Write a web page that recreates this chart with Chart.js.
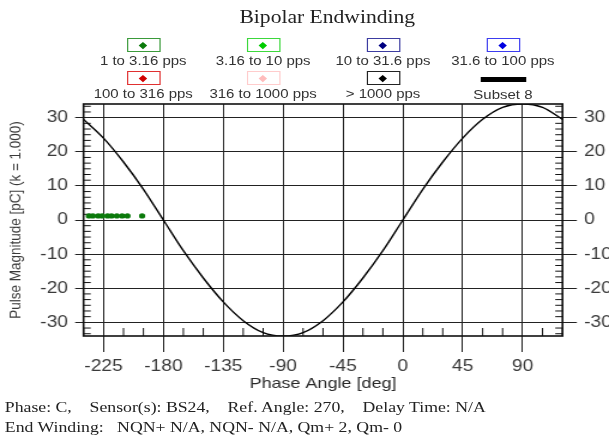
<!DOCTYPE html>
<html>
<head>
<meta charset="utf-8">
<script src="https://cdn.jsdelivr.net/npm/chart.js@4.4.1/dist/chart.umd.min.js"></script>
<style>
  html, body { margin: 0; padding: 0; background: #fff; }
  body { width: 609px; height: 437px; overflow: hidden; position: relative; }
  /* the original picture is stretched sideways, so everything is drawn narrow and widened */
  #wrap { position: absolute; left: 0; top: 0; width: 508px; height: 437px; transform: scaleX(1.1988); transform-origin: 0 0; }
  #c { position: absolute; left: 0; top: 0; }
  #title { position: absolute; left: 0; width: 546px; top: 7px; text-align: center; font: 18px "Liberation Serif", serif; color: #222; }
  .item { position: absolute; width: 100px; text-align: center; }
  .box { position: relative; margin: 0 auto; width: 26px; height: 12px; border: 1.5px solid #000; }
  .dia { position: absolute; left: 50%; top: 50%; width: 4.5px; height: 4.5px; margin: -2.25px 0 0 -2.25px; transform: rotate(45deg); }
  .bar { margin: 6px auto 0; width: 38px; height: 5px; background: #000; }
  .lab { font: 12.5px "Liberation Sans", Arial, sans-serif; color: #333; line-height: 14px; margin-top: 2px; white-space: nowrap; }
  #foot { position: absolute; left: 4px; top: 397px; font: 14.8px "Liberation Serif", serif; color: #222; line-height: 20px; white-space: pre; }
</style>
</head>
<body>
<div id="wrap">
  <div id="title">Bipolar Endwinding</div>
  <div id="legend"></div>
  <canvas id="c" width="508" height="437" style="width:508px;height:437px"></canvas>
  <div id="foot">Phase: C,    Sensor(s): BS24,    Ref. Angle: 270,    Delay Time: N/A
End Winding:   NQN+ N/A, NQN- N/A, Qm+ 2, Qm- 0</div>
</div>
<script>
// axis ticks
const xTicks = [-225, -180, -135, -90, -45, 0, 45, 90];
const yTicks = [-30, -20, -10, 0, 10, 20, 30];

// series
const seriesNames = ["1 to 3.16 pps", "3.16 to 10 pps", "10 to 31.6 pps", "31.6 to 100 pps",
                     "100 to 316 pps", "316 to 1000 pps", "> 1000 pps", "Subset 8"];
const seriesColors = ["#0b7a0b", "#00cc00", "#000080", "#0000e0", "#d00000", "#ffbcbc", "#000000", "#000000"];
const boxColors = ["#3a9a3a", "#3cd83c", "#3c3ca0", "#3c3cf0", "#e03030", "#ffcccc", "#222222", "#000000"];

// pulses (1 to 3.16 pps)
const pulseAngle = [-236, -233, -229, -226, -222, -219, -215, -211, -207, -196];
const pulseMag = [1.2, 1.2, 1.2, 1.2, 1.2, 1.2, 1.2, 1.2, 1.2, 1.2];

// reference curve (Subset 8)
const curveAngle = [-240, -225, -210, -195, -180, -165, -150, -135, -120, -105, -90, -75, -60,
                    -45, -30, -15, 0, 15, 30, 45, 60, 75, 90, 105, 120];
const curveMag = [29.5, 24, 17, 9, 0, -9, -17, -24, -29.5, -33, -34, -33, -29.5,
                  -24, -17, -9, 0, 9, 17, 24, 29.5, 33, 34, 33, 29.5];

const sans = "'Liberation Sans', Arial, sans-serif";

const datasets = seriesNames.map((name, i) => {
    if (name === "Subset 8") {
        return {
            label: name,
            data: curveAngle.map((a, k) => ({ x: a, y: curveMag[k] })),
            showLine: true,
            borderColor: seriesColors[i],
            borderWidth: 1.4,
            pointRadius: 0,
            cubicInterpolationMode: "monotone"
        };
    }
    return {
        label: name,
        data: i === 0 ? pulseAngle.map((a, k) => ({ x: a, y: pulseMag[k] })) : [],
        backgroundColor: seriesColors[i],
        borderColor: seriesColors[i],
        pointRadius: 2.6,
        pointBorderWidth: 0
    };
});

// legend: 4 columns, 2 rows
const legend = document.getElementById("legend");
seriesNames.forEach((name, i) => {
    const col = i % 4, row = Math.floor(i / 4);
    const el = document.createElement("div");
    el.className = "item";
    el.style.left = (69.5 + col * 100) + "px";
    el.style.top = (row === 0 ? 38 : 71) + "px";
    let sym;
    if (name === "Subset 8") {
        sym = '<div class="bar"></div>';
    } else {
        sym = '<div class="box" style="border-color:' + boxColors[i] + '"><div class="dia" style="background:' +
              seriesColors[i] + '"></div></div>';
    }
    el.innerHTML = sym + '<div class="lab"></div>';
    el.querySelector(".lab").textContent = name;
    if (name === "Subset 8") el.querySelector(".lab").style.marginTop = "6px";
    legend.appendChild(el);
});

// minor ticks and plot frame
const frame = {
    id: "frame",
    beforeDatasetsDraw(chart) {
        const { ctx, chartArea: a, scales: { x, y } } = chart;
        ctx.save();
        ctx.strokeStyle = "#111";
        ctx.lineWidth = 1;
        ctx.beginPath();
        for (let v = -240; v <= 120; v += 15) {
            if (v % 45 === 0) continue;
            const px = x.getPixelForValue(v);
            ctx.moveTo(px, a.bottom);
            ctx.lineTo(px, a.bottom - 8);
        }
        for (let k = -20; k <= 20; k++) {
            if (k % 6 === 0) continue;
            const py = y.getPixelForValue(k * 10 / 6);
            ctx.moveTo(a.left, py);
            ctx.lineTo(a.left + 6, py);
            ctx.moveTo(a.right, py);
            ctx.lineTo(a.right - 6, py);
        }
        ctx.stroke();
        ctx.restore();
    },
    afterDatasetsDraw(chart) {
        const { ctx, chartArea: a } = chart;
        ctx.save();
        ctx.strokeStyle = "#111";
        ctx.lineWidth = 1.6;
        ctx.strokeRect(a.left, a.top, a.right - a.left, a.bottom - a.top);
        ctx.restore();
    }
};

new Chart(document.getElementById("c"), {
    type: "scatter",
    data: { datasets: datasets },
    options: {
        responsive: false,
        animation: false,
        devicePixelRatio: 1,
        layout: { padding: { top: 104, bottom: 44.5, left: 0, right: 0 } },
        plugins: { legend: { display: false }, tooltip: { enabled: false } },
        scales: {
            x: {
                type: "linear",
                position: "bottom",
                min: -240,
                max: 120,
                afterBuildTicks: s => { s.ticks = xTicks.map(v => ({ value: v })); },
                afterFit: s => { s.height = 56.5; },
                grid: { color: "#222", lineWidth: 1, tickLength: 16, tickColor: "#222" },
                border: { display: false },
                ticks: { font: { family: sans, size: 16 }, color: "#3a3a3a", padding: 5, maxRotation: 0, autoSkip: false },
                title: { display: true, text: "Phase Angle [deg]", font: { family: sans, size: 15 }, color: "#2a2a2a", padding: 0 }
            },
            y: {
                type: "linear",
                position: "left",
                min: -34,
                max: 34,
                afterBuildTicks: s => { s.ticks = yTicks.map(v => ({ value: v })); },
                afterFit: s => { s.width = 69.7; },
                grid: { color: "#222", lineWidth: 1, tickLength: 7, tickColor: "#222" },
                border: { display: false },
                ticks: { font: { family: sans, size: 16 }, color: "#3a3a3a", padding: 6 },
                title: { display: true, text: "Pulse Magnitude [pC] (k = 1.000)", font: { family: sans, size: 13.5 }, color: "#3a3a3a", padding: { top: 5, bottom: 0 } }
            },
            y2: {
                type: "linear",
                position: "right",
                min: -34,
                max: 34,
                afterBuildTicks: s => { s.ticks = yTicks.map(v => ({ value: v })); },
                afterFit: s => { s.width = 38.8; },
                grid: { drawOnChartArea: false, color: "#222", lineWidth: 1, tickLength: 12, tickColor: "#222" },
                border: { display: false },
                ticks: { font: { family: sans, size: 16 }, color: "#3a3a3a", padding: 6 }
            }
        }
    },
    plugins: [frame]
});
</script>
</body>
</html>
